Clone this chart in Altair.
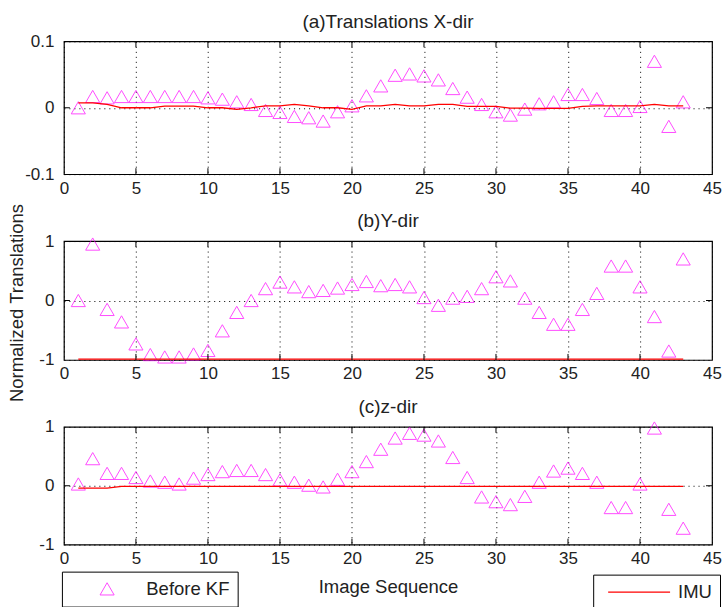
import altair as alt
import pandas as pd

seq = list(range(1, 44))

x_dir = [0.0, 0.017, 0.015, 0.017, 0.017, 0.017, 0.017, 0.017, 0.017, 0.015,
         0.013, 0.009, 0.005, -0.004, -0.007, -0.013, -0.015, -0.02, -0.006, 0.003,
         0.018, 0.033, 0.049, 0.051, 0.048, 0.042, 0.029, 0.016, 0.005, -0.006,
         -0.011, -0.002, 0.006, 0.009, 0.02, 0.02, 0.014, -0.004, -0.004, 0.002,
         0.07, -0.028, 0.009]
imu_x = [0.0075, 0.0075, 0.005, 0.0, 0.0, 0.0, 0.0025, 0.0025, 0.0025, 0.0,
         0.0, -0.0025, 0.0, 0.003, 0.003, 0.005, 0.003, 0.0, 0.0, -0.0025,
         0.003, 0.003, 0.005, 0.003, 0.003, 0.005, 0.005, 0.002, 0.002, 0.002,
         -0.0005, -0.0005, -0.001, -0.001, -0.001, 0.002, 0.003, 0.003, 0.003, 0.003,
         0.005, 0.003, 0.003]

y_dir = [0.0, 0.95, -0.15, -0.36, -0.73, -0.91, -0.95, -0.95, -0.9, -0.84,
         -0.51, -0.2, 0.0, 0.2, 0.31, 0.23, 0.15, 0.17, 0.21, 0.27,
         0.32, 0.25, 0.27, 0.23, 0.05, -0.08, 0.04, 0.07, 0.2, 0.4,
         0.33, 0.04, -0.2, -0.4, -0.4, -0.15, 0.12, 0.58, 0.58, 0.23,
         -0.27, -0.85, 0.7]
imu_y = [-0.985, -0.985, -0.985, -0.985, -0.985, -0.985, -0.985, -0.985, -0.985, -0.985,
         -0.985, -0.985, -0.985, -0.985, -0.985, -0.985, -0.985, -0.985, -0.985, -0.985,
         -0.985, -0.985, -0.985, -0.985, -0.985, -0.985, -0.985, -0.985, -0.985, -0.985,
         -0.985, -0.985, -0.985, -0.985, -0.985, -0.985, -0.985, -0.985, -0.985, -0.985,
         -0.985, -0.985, -0.985]

z_dir = [0.03, 0.46, 0.21, 0.21, 0.14, 0.08, 0.06, 0.03, 0.13, 0.19,
         0.24, 0.26, 0.26, 0.19, 0.1, 0.06, 0.01, -0.02, 0.11, 0.24,
         0.41, 0.62, 0.81, 0.89, 0.86, 0.76, 0.48, 0.14, -0.19, -0.27,
         -0.32, -0.18, 0.06, 0.25, 0.3, 0.21, 0.06, -0.37, -0.37, 0.03,
         0.98, -0.4, -0.72]
imu_z = [-0.04, -0.04, -0.04, -0.01, -0.01, -0.01, -0.01, -0.01, -0.01, -0.01,
         -0.01, -0.01, -0.01, -0.01, -0.01, -0.01, -0.01, -0.01, -0.01, -0.01,
         -0.01, -0.01, -0.01, -0.01, -0.01, -0.01, -0.01, -0.01, -0.01, -0.01,
         -0.01, -0.01, -0.01, -0.01, -0.01, -0.01, -0.01, -0.01, -0.01, -0.01,
         -0.01, -0.01, -0.01]

series_names = ["Before KF", "IMU"]
titles = ["(a)Translations X-dir", "(b)Y-dir", "(c)z-dir"]
x_ticks = [0, 5, 10, 15, 20, 25, 30, 35, 40, 45]
y_ticks_a = [-0.1, 0, 0.1]
y_ticks_bc = [-1, 0, 1]

FONT = "Liberation Sans"
MAGENTA = "#FF00FF"
RED = "#FF0000"
W = 649
TXT = "#222222"
FS_TICK = 17
FS_TEXT = 18.5

label_expr = "datum.value < 0 ? '-' + format(-datum.value, '~g') : format(datum.value, '~g')"


def panel(vals, imu, ydom, yticks, title, h, title_off, ytitle=None, xtitle=None, legend=False):
    df = pd.DataFrame({"x": seq, "v": vals, "imu": imu,
                       "s1": series_names[0], "s2": series_names[1]})
    xs = alt.Scale(domain=[x_ticks[0], x_ticks[-1]], nice=False, zero=False)
    ys = alt.Scale(domain=ydom, nice=False, zero=False)
    xaxis = alt.Axis(values=x_ticks, grid=True, gridDash=[1, 4], gridColor="#000000",
                     gridOpacity=1, gridWidth=1, tickSize=0, domain=False, labelPadding=6,
                     labelFontSize=FS_TICK, labelFont=FONT, labelColor=TXT, labelFlush=False,
                     title=xtitle if xtitle else "", titleFont=FONT, titleFontSize=FS_TEXT,
                     titleFontWeight="normal", titleColor=TXT, titlePadding=11)
    yaxis_kw = dict(values=yticks, grid=True, gridDash=[1, 4], gridColor="#000000",
                    gridOpacity=1, gridWidth=1, tickSize=0, domain=False, labelPadding=10,
                    labelFontSize=FS_TICK, labelFont=FONT, labelColor=TXT, labelExpr=label_expr,
                    labelFlush=False, title=ytitle if ytitle else "", titleFont=FONT,
                    titleFontSize=FS_TEXT, titleFontWeight="normal", titleColor=TXT)
    if ytitle:
        yaxis_kw.update(titleX=-41, titleY=61.5, titleBaseline="alphabetic", titleAngle=270)
    yaxis = alt.Axis(**yaxis_kw)

    X = lambda f: alt.X(f, scale=xs, axis=xaxis)
    Y = lambda f: alt.Y(f, scale=ys, axis=yaxis)

    if legend:
        pts = alt.Chart(df).mark_point(filled=False, size=200, strokeWidth=1, color=MAGENTA).encode(
            x=X("x:Q"), y=Y("v:Q"),
            shape=alt.Shape("s1:N", scale=alt.Scale(domain=[series_names[0]], range=["triangle-up"]),
                            legend=alt.Legend(title=None, orient="none", legendX=-2, legendY=531,
                                              strokeColor="#000000", fillColor="white", padding=8,
                                              symbolSize=200, symbolStrokeColor=MAGENTA,
                                              symbolFillColor="transparent", symbolStrokeWidth=1,
                                              symbolOffset=28, labelOffset=30,
                                              labelFontSize=FS_TEXT, labelFont=FONT,
                                              labelColor=TXT)),
        )
        line = alt.Chart(df).mark_line(strokeWidth=1.3).encode(
            x=X("x:Q"), y=Y("imu:Q"),
            stroke=alt.Stroke("s2:N", scale=alt.Scale(domain=[series_names[1]], range=[RED]),
                              legend=alt.Legend(title=None, orient="none", legendX=530, legendY=534,
                                                strokeColor="#000000", fillColor="white", padding=8,
                                                symbolType="stroke", symbolSize=3844,
                                                symbolOffset=6, symbolStrokeWidth=1.3,
                                                clipHeight=19, labelOffset=7,
                                                labelFontSize=FS_TEXT, labelFont=FONT,
                                                labelColor=TXT)),
        )
    else:
        pts = alt.Chart(df).mark_point(filled=False, size=200, strokeWidth=1, color=MAGENTA,
                                       shape="triangle-up").encode(x=X("x:Q"), y=Y("v:Q"))
        line = alt.Chart(df).mark_line(strokeWidth=1.3, color=RED).encode(x=X("x:Q"), y=Y("imu:Q"))

    xt = pd.DataFrame({"t": x_ticks[1:-1]})
    yt = pd.DataFrame({"t": yticks[1:-1]})
    tick_top = alt.Chart(xt).mark_rule(color="#000000").encode(
        x=X("t:Q"), y=alt.value(0), y2=alt.value(6))
    tick_bot = alt.Chart(xt).mark_rule(color="#000000").encode(
        x=X("t:Q"), y=alt.value(h - 6), y2=alt.value(h))
    tick_l = alt.Chart(yt).mark_rule(color="#000000").encode(
        y=Y("t:Q"), x=alt.value(0), x2=alt.value(6))
    tick_r = alt.Chart(yt).mark_rule(color="#000000").encode(
        y=Y("t:Q"), x=alt.value(W - 6), x2=alt.value(W))

    return alt.layer(pts, line, tick_top, tick_bot, tick_l, tick_r).properties(
        width=W, height=h,
        title=alt.TitleParams(title, font=FONT, fontSize=19, fontWeight="normal", color=TXT,
                              offset=title_off, anchor="middle"))


p1 = panel(x_dir, imu_x, [-0.1, 0.1], y_ticks_a, titles[0], 133, 0.5)
p2 = panel(y_dir, imu_y, [-1, 1], y_ticks_bc, titles[1], 119, -27.5, ytitle="Normalized Translations")
p3 = panel(z_dir, imu_z, [-1, 1], y_ticks_bc, titles[2], 118, 0.5, xtitle="Image Sequence", legend=True)

chart = alt.vconcat(p1, p2, p3, spacing=67, bounds="flush").properties(
    padding={"left": 7, "top": 11, "right": 0, "bottom": 0},
    background="white",
).configure_view(stroke="#000000", strokeWidth=1.2)

chart.save("out.html", embed_options={"renderer": "svg", "actions": False})
